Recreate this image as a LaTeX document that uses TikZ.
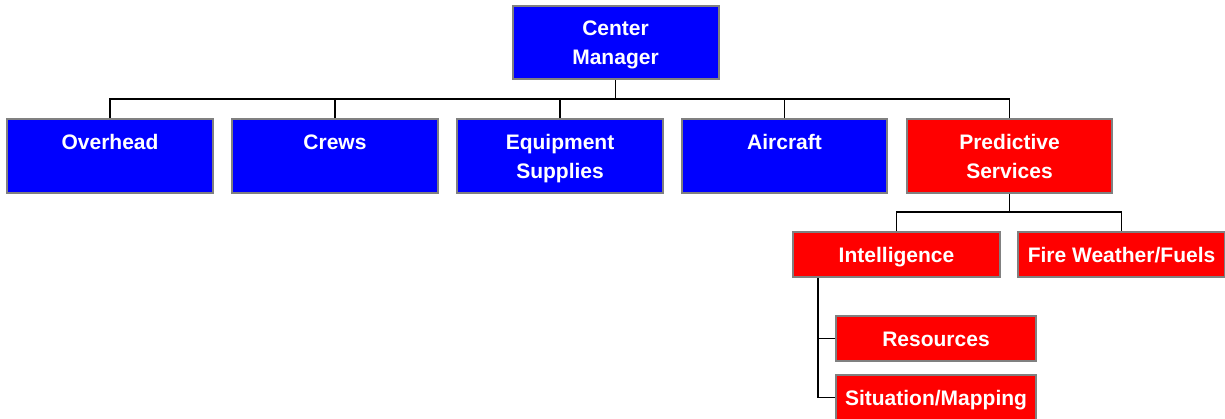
\documentclass[tikz,border=0pt]{standalone}
\usepackage{fontspec}
\setmainfont{Liberation Sans}
\definecolor{boxblue}{RGB}{0,0,255}
\definecolor{boxred}{RGB}{255,0,0}
\definecolor{boxedge}{RGB}{128,128,128}
\tikzset{
  orgbox/.style={draw=boxedge, line width=2pt, inner sep=0pt, text=white,
    align=center, font=\fontsize{21}{29}\selectfont\bfseries},
  bigbox/.style={orgbox, minimum width=206pt, minimum height=74pt,
    text height=15pt, text depth=29pt},
  twoline/.style={text height=44pt, text depth=0pt},
  smallbox/.style={orgbox, minimum width=207pt, minimum height=45pt,
    text height=15pt, text depth=0pt},
  bluebox/.style={fill=boxblue},
  redbox/.style={fill=boxred},
  link/.style={draw=black, line width=1.6pt}
}
\begin{document}
\begin{tikzpicture}[x=1pt,y=-1pt]
\useasboundingbox (0,0) rectangle (1225,418);
\node[bigbox,twoline,bluebox,minimum height=73pt] (cm) at (615.5,42.5) {Center\\Manager};
\node[bigbox,bluebox] (ov) at (110,156) {Overhead};
\node[bigbox,bluebox] (cr) at (335,156) {Crews};
\node[bigbox,twoline,bluebox] (eq) at (560,156) {Equipment\\Supplies};
\node[bigbox,bluebox,minimum width=205pt] (ai) at (784.5,156) {Aircraft};
\node[bigbox,twoline,redbox,minimum width=205pt] (pr) at (1009.5,156) {Predictive\\Services};
\node[smallbox,redbox] (in) at (896.5,254.5) {Intelligence};
\node[smallbox,redbox] (fw) at (1121.5,254.5) {Fire Weather/Fuels};
\node[smallbox,redbox,minimum width=200pt] (re) at (936,338.5) {Resources};
\node[smallbox,redbox,minimum width=200pt] (si) at (936,397.5) {Situation/Mapping};
\coordinate (bus1) at (615.5,99);
\coordinate (bus2) at (1009.5,212);
\coordinate (spine) at (818,300);
\draw[link] (cm.south) -- (bus1);
\draw[link] (ov.north) |- (bus1) -| (pr.north);
\draw[link] (cr.north) -- (cr.north |- bus1);
\draw[link] (eq.north) -- (eq.north |- bus1);
\draw[link] (ai.north) -- (ai.north |- bus1);
\draw[link] (pr.south) -- (bus2);
\draw[link] (in.north) |- (bus2) -| (fw.north);
\draw[link] (in.south -| spine) |- (si.west);
\draw[link] (re.west) -- (re.west -| spine);
\end{tikzpicture}
\end{document}
